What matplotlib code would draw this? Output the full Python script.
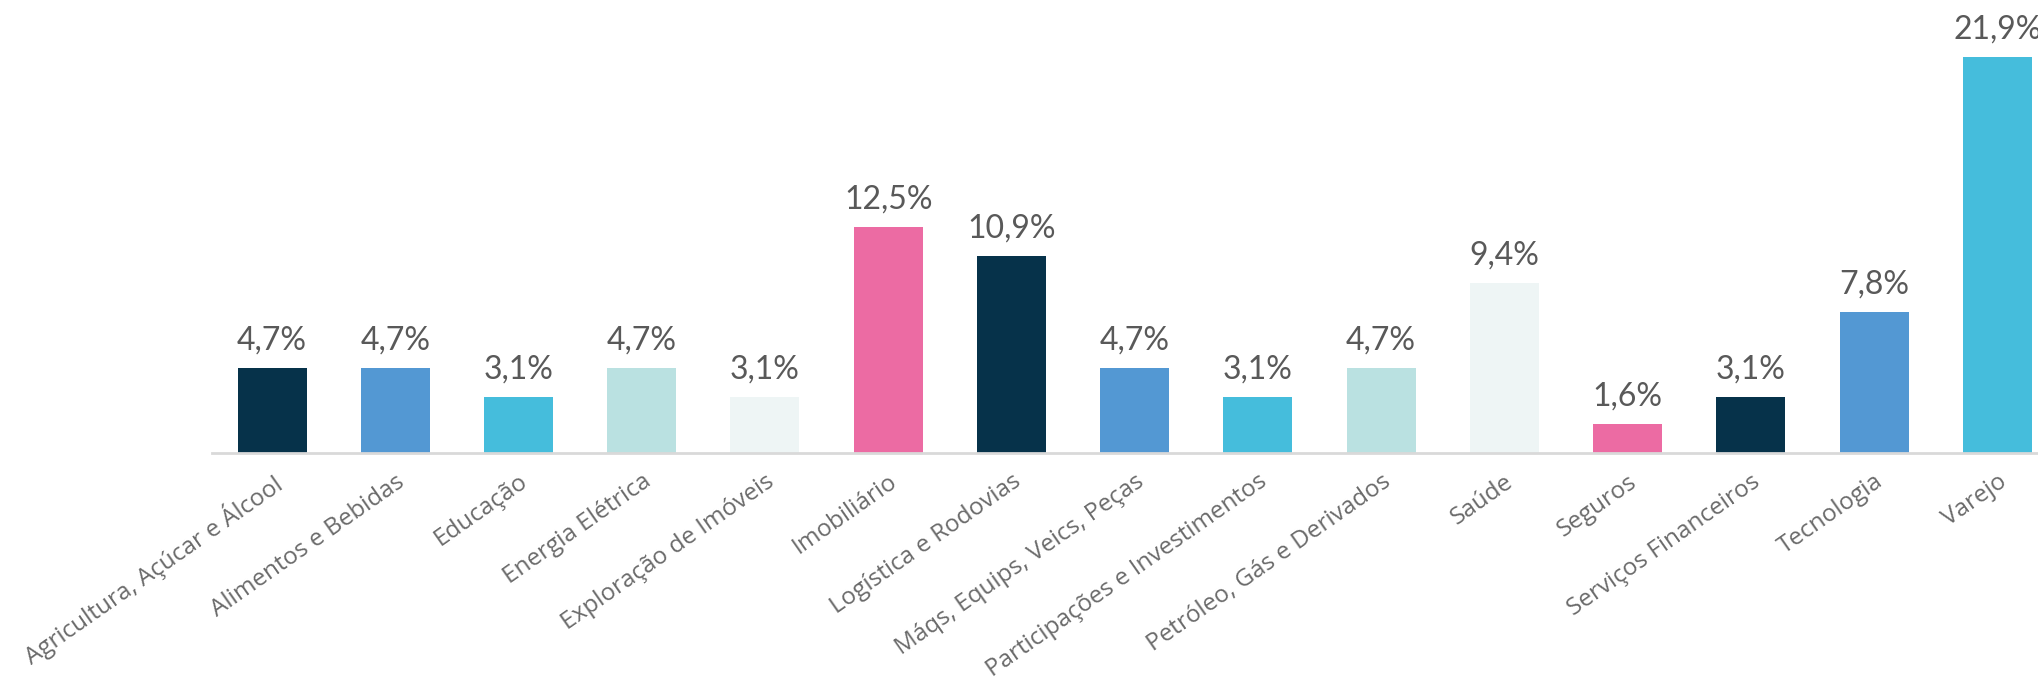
import matplotlib
matplotlib.use("Agg")
import matplotlib.pyplot as plt

categories = ["Agricultura, Açúcar e Álcool", "Alimentos e Bebidas", "Educação",
              "Energia Elétrica", "Exploração de Imóveis", "Imobiliário",
              "Logística e Rodovias", "Máqs, Equips, Veics, Peças",
              "Participações e Investimentos", "Petróleo, Gás e Derivados",
              "Saúde", "Seguros", "Serviços Financeiros", "Tecnologia", "Varejo"]
values = [4.7, 4.7, 3.1, 4.7, 3.1, 12.5, 10.9, 4.7, 3.1, 4.7, 9.4, 1.6, 3.1, 7.8, 21.9]
palette = ["#06324A", "#5398D3", "#45BDDC", "#BAE1E1", "#EEF5F5", "#EC6BA3"]
colors = [palette[i % len(palette)] for i in range(len(values))]

fig = plt.figure(figsize=(20.38, 6.85), dpi=100)
ax = fig.add_axes([212 / 2038, 232 / 685, 1 - 212 / 2038, 453 / 685])
x = list(range(len(values)))
ax.bar(x, values, width=0.56, color=colors, zorder=2)
ax.set_xlim(-0.487, 14.33)
ax.set_ylim(0, 453 / 18.1)

for xi, v in zip(x, values):
    ax.annotate(f"{v:.1f}".replace(".", ",") + "%", (xi, v), xytext=(0, 9),
                textcoords="offset points", ha="center", va="bottom",
                fontsize=23, color="#595959", family="Lato")

for s in ["top", "right", "left"]:
    ax.spines[s].set_visible(False)
ax.spines["bottom"].set_color("#D9D9D9")
ax.spines["bottom"].set_linewidth(2)
ax.set_yticks([])
ax.set_xticks(x)
ax.set_xticklabels(categories, rotation=35, ha="right", rotation_mode="anchor",
                   fontsize=17.5, color="#6A6A6A", family="Open Sans")
ax.tick_params(axis="x", length=0, pad=12)

fig.savefig("out.png", dpi=100)
